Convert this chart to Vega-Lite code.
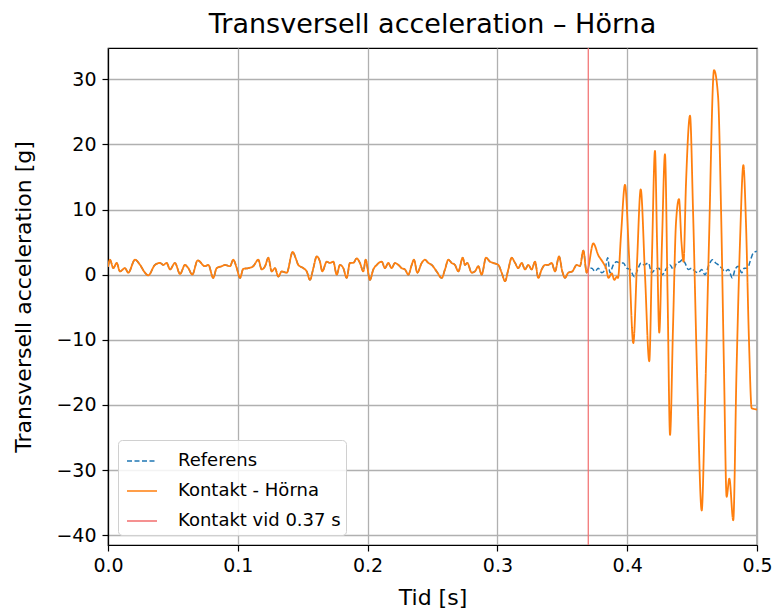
{
  "$schema": "https://vega.github.io/schema/vega-lite/v6.json",
  "width": 649,
  "height": 497,
  "autosize": {"type": "none"},
  "padding": {"left": 108, "top": 48, "right": 17, "bottom": 67},
  "title": {"text": "Transversell acceleration – Hörna", "fontSize": 27, "fontWeight": "normal", "font": "DejaVu Sans", "color": "black", "offset": 8},
  "config": {
    "font": "DejaVu Sans",
    "view": {"stroke": "black", "strokeWidth": 1.2},
    "axis": {
      "domainColor": "black", "domainWidth": 1.2, "tickColor": "black", "tickSize": 6, "tickWidth": 1.2,
      "labelFontSize": 19, "labelColor": "black", "labelFont": "DejaVu Sans",
      "titleFontSize": 22, "titleFontWeight": "normal", "titleColor": "black", "titleFont": "DejaVu Sans",
      "gridColor": "#b0b0b0", "gridWidth": 1.3, "gridOpacity": 1
    }
  },
  "data": {"values": [
    {"t":0.0,"v":1.2,"s":"Referens"},{"t":0.0015,"v":2.3,"s":"Referens"},{"t":0.0041,"v":1.0,"s":"Referens"},{"t":0.0067,"v":1.8,"s":"Referens"},{"t":0.0092,"v":0.5,"s":"Referens"},{"t":0.0131,"v":1.0,"s":"Referens"},{"t":0.0156,"v":0.3,"s":"Referens"},{"t":0.0208,"v":2.3,"s":"Referens"},{"t":0.0247,"v":1.5,"s":"Referens"},{"t":0.0285,"v":0.3,"s":"Referens"},{"t":0.031,"v":-0.1,"s":"Referens"},{"t":0.0362,"v":1.5,"s":"Referens"},{"t":0.0401,"v":1.8,"s":"Referens"},{"t":0.0426,"v":1.5,"s":"Referens"},{"t":0.0452,"v":1.8,"s":"Referens"},{"t":0.0478,"v":0.8,"s":"Referens"},{"t":0.0516,"v":1.8,"s":"Referens"},{"t":0.0555,"v":0.1,"s":"Referens"},{"t":0.0593,"v":1.5,"s":"Referens"},{"t":0.0619,"v":1.0,"s":"Referens"},{"t":0.0649,"v":0.0,"s":"Referens"},{"t":0.0691,"v":2.2,"s":"Referens"},{"t":0.0747,"v":1.3,"s":"Referens"},{"t":0.0773,"v":1.5,"s":"Referens"},{"t":0.0811,"v":-0.5,"s":"Referens"},{"t":0.0837,"v":1.0,"s":"Referens"},{"t":0.0876,"v":1.3,"s":"Referens"},{"t":0.0901,"v":1.5,"s":"Referens"},{"t":0.094,"v":1.3,"s":"Referens"},{"t":0.0965,"v":2.3,"s":"Referens"},{"t":0.0992,"v":1.0,"s":"Referens"},{"t":0.1017,"v":-0.5,"s":"Referens"},{"t":0.1042,"v":0.9,"s":"Referens"},{"t":0.1081,"v":1.0,"s":"Referens"},{"t":0.1119,"v":1.3,"s":"Referens"},{"t":0.1158,"v":2.3,"s":"Referens"},{"t":0.1184,"v":0.8,"s":"Referens"},{"t":0.121,"v":1.3,"s":"Referens"},{"t":0.1235,"v":2.6,"s":"Referens"},{"t":0.1261,"v":0.5,"s":"Referens"},{"t":0.1287,"v":1.0,"s":"Referens"},{"t":0.1312,"v":-0.3,"s":"Referens"},{"t":0.1338,"v":0.5,"s":"Referens"},{"t":0.1377,"v":0.3,"s":"Referens"},{"t":0.1423,"v":3.5,"s":"Referens"},{"t":0.1445,"v":2.6,"s":"Referens"},{"t":0.1466,"v":1.5,"s":"Referens"},{"t":0.1505,"v":1.0,"s":"Referens"},{"t":0.1531,"v":0.5,"s":"Referens"},{"t":0.1556,"v":-0.8,"s":"Referens"},{"t":0.1582,"v":1.0,"s":"Referens"},{"t":0.1608,"v":2.8,"s":"Referens"},{"t":0.1633,"v":2.0,"s":"Referens"},{"t":0.1651,"v":0.5,"s":"Referens"},{"t":0.1685,"v":2.0,"s":"Referens"},{"t":0.171,"v":1.8,"s":"Referens"},{"t":0.1736,"v":2.0,"s":"Referens"},{"t":0.1762,"v":0.0,"s":"Referens"},{"t":0.1787,"v":1.5,"s":"Referens"},{"t":0.1813,"v":1.0,"s":"Referens"},{"t":0.1839,"v":-0.5,"s":"Referens"},{"t":0.1864,"v":1.8,"s":"Referens"},{"t":0.189,"v":1.8,"s":"Referens"},{"t":0.1916,"v":2.5,"s":"Referens"},{"t":0.1941,"v":1.8,"s":"Referens"},{"t":0.1967,"v":0.5,"s":"Referens"},{"t":0.1985,"v":2.3,"s":"Referens"},{"t":0.2018,"v":-0.8,"s":"Referens"},{"t":0.2044,"v":0.8,"s":"Referens"},{"t":0.207,"v":1.5,"s":"Referens"},{"t":0.2109,"v":2.0,"s":"Referens"},{"t":0.2134,"v":1.0,"s":"Referens"},{"t":0.2159,"v":1.8,"s":"Referens"},{"t":0.2185,"v":1.0,"s":"Referens"},{"t":0.2211,"v":1.8,"s":"Referens"},{"t":0.2237,"v":1.5,"s":"Referens"},{"t":0.2263,"v":1.0,"s":"Referens"},{"t":0.2288,"v":0.8,"s":"Referens"},{"t":0.2314,"v":0.0,"s":"Referens"},{"t":0.234,"v":1.5,"s":"Referens"},{"t":0.2357,"v":2.3,"s":"Referens"},{"t":0.2383,"v":0.3,"s":"Referens"},{"t":0.2417,"v":1.8,"s":"Referens"},{"t":0.2442,"v":2.3,"s":"Referens"},{"t":0.2468,"v":1.8,"s":"Referens"},{"t":0.2494,"v":1.5,"s":"Referens"},{"t":0.2532,"v":0.5,"s":"Referens"},{"t":0.2571,"v":-0.5,"s":"Referens"},{"t":0.2596,"v":0.8,"s":"Referens"},{"t":0.2622,"v":2.3,"s":"Referens"},{"t":0.2648,"v":1.8,"s":"Referens"},{"t":0.2673,"v":1.5,"s":"Referens"},{"t":0.2699,"v":0.5,"s":"Referens"},{"t":0.2733,"v":2.6,"s":"Referens"},{"t":0.275,"v":1.5,"s":"Referens"},{"t":0.2768,"v":1.8,"s":"Referens"},{"t":0.2802,"v":0.3,"s":"Referens"},{"t":0.2827,"v":0.5,"s":"Referens"},{"t":0.2853,"v":1.3,"s":"Referens"},{"t":0.2879,"v":0.0,"s":"Referens"},{"t":0.2912,"v":2.6,"s":"Referens"},{"t":0.2943,"v":2.0,"s":"Referens"},{"t":0.2968,"v":1.8,"s":"Referens"},{"t":0.3007,"v":1.5,"s":"Referens"},{"t":0.3033,"v":0.3,"s":"Referens"},{"t":0.3059,"v":-1.0,"s":"Referens"},{"t":0.3084,"v":0.8,"s":"Referens"},{"t":0.311,"v":2.6,"s":"Referens"},{"t":0.3136,"v":1.8,"s":"Referens"},{"t":0.3161,"v":1.0,"s":"Referens"},{"t":0.3187,"v":1.8,"s":"Referens"},{"t":0.3213,"v":0.8,"s":"Referens"},{"t":0.3238,"v":1.5,"s":"Referens"},{"t":0.3264,"v":0.8,"s":"Referens"},{"t":0.329,"v":2.0,"s":"Referens"},{"t":0.3315,"v":-0.5,"s":"Referens"},{"t":0.3341,"v":0.8,"s":"Referens"},{"t":0.3367,"v":1.5,"s":"Referens"},{"t":0.3392,"v":1.5,"s":"Referens"},{"t":0.3418,"v":1.8,"s":"Referens"},{"t":0.3444,"v":0.5,"s":"Referens"},{"t":0.3475,"v":2.8,"s":"Referens"},{"t":0.35,"v":0.5,"s":"Referens"},{"t":0.3521,"v":-0.5,"s":"Referens"},{"t":0.3546,"v":0.3,"s":"Referens"},{"t":0.3577,"v":0.5,"s":"Referens"},{"t":0.3611,"v":1.5,"s":"Referens"},{"t":0.3636,"v":1.3,"s":"Referens"},{"t":0.3662,"v":3.7,"s":"Referens"},{"t":0.3688,"v":0.3,"s":"Referens"},
    {"t":0.37,"v":0.8,"s":"Referens"},{"t":0.3727,"v":1.0,"s":"Referens"},{"t":0.3752,"v":0.5,"s":"Referens"},{"t":0.3777,"v":1.0,"s":"Referens"},{"t":0.3803,"v":0.3,"s":"Referens"},{"t":0.3829,"v":0.8,"s":"Referens"},{"t":0.385,"v":2.6,"s":"Referens"},{"t":0.3867,"v":0.3,"s":"Referens"},{"t":0.3893,"v":1.5,"s":"Referens"},{"t":0.3919,"v":2.0,"s":"Referens"},{"t":0.3945,"v":1.8,"s":"Referens"},{"t":0.397,"v":1.8,"s":"Referens"},{"t":0.3996,"v":1.0,"s":"Referens"},{"t":0.4022,"v":0.8,"s":"Referens"},{"t":0.4055,"v":-0.3,"s":"Referens"},{"t":0.4081,"v":0.8,"s":"Referens"},{"t":0.4106,"v":1.8,"s":"Referens"},{"t":0.4132,"v":1.5,"s":"Referens"},{"t":0.4163,"v":1.8,"s":"Referens"},{"t":0.4189,"v":0.3,"s":"Referens"},{"t":0.4214,"v":0.8,"s":"Referens"},{"t":0.4245,"v":1.0,"s":"Referens"},{"t":0.427,"v":0.0,"s":"Referens"},{"t":0.4304,"v":1.0,"s":"Referens"},{"t":0.433,"v":1.5,"s":"Referens"},{"t":0.4355,"v":0.8,"s":"Referens"},{"t":0.4381,"v":1.8,"s":"Referens"},{"t":0.4407,"v":2.0,"s":"Referens"},{"t":0.4425,"v":2.3,"s":"Referens"},{"t":0.4445,"v":1.8,"s":"Referens"},{"t":0.4471,"v":0.8,"s":"Referens"},{"t":0.4497,"v":1.0,"s":"Referens"},{"t":0.4522,"v":0.5,"s":"Referens"},{"t":0.4548,"v":0.3,"s":"Referens"},{"t":0.4574,"v":0.8,"s":"Referens"},{"t":0.4599,"v":0.0,"s":"Referens"},{"t":0.463,"v":1.5,"s":"Referens"},{"t":0.4656,"v":2.3,"s":"Referens"},{"t":0.4682,"v":1.8,"s":"Referens"},{"t":0.4702,"v":1.5,"s":"Referens"},{"t":0.4728,"v":1.0,"s":"Referens"},{"t":0.4753,"v":0.5,"s":"Referens"},{"t":0.4779,"v":0.8,"s":"Referens"},{"t":0.481,"v":-0.5,"s":"Referens"},{"t":0.4831,"v":0.8,"s":"Referens"},{"t":0.4856,"v":1.3,"s":"Referens"},{"t":0.4882,"v":0.3,"s":"Referens"},{"t":0.4902,"v":1.0,"s":"Referens"},{"t":0.4928,"v":1.0,"s":"Referens"},{"t":0.4946,"v":2.0,"s":"Referens"},{"t":0.4971,"v":3.3,"s":"Referens"},{"t":0.4998,"v":3.6,"s":"Referens"},

    {"t":0.0,"v":1.2,"s":"Kontakt - Hörna"},{"t":0.0015,"v":2.3,"s":"Kontakt - Hörna"},{"t":0.0041,"v":1.0,"s":"Kontakt - Hörna"},{"t":0.0067,"v":1.8,"s":"Kontakt - Hörna"},{"t":0.0092,"v":0.5,"s":"Kontakt - Hörna"},{"t":0.0131,"v":1.0,"s":"Kontakt - Hörna"},{"t":0.0156,"v":0.3,"s":"Kontakt - Hörna"},{"t":0.0208,"v":2.3,"s":"Kontakt - Hörna"},{"t":0.0247,"v":1.5,"s":"Kontakt - Hörna"},{"t":0.0285,"v":0.3,"s":"Kontakt - Hörna"},{"t":0.031,"v":-0.1,"s":"Kontakt - Hörna"},{"t":0.0362,"v":1.5,"s":"Kontakt - Hörna"},{"t":0.0401,"v":1.8,"s":"Kontakt - Hörna"},{"t":0.0426,"v":1.5,"s":"Kontakt - Hörna"},{"t":0.0452,"v":1.8,"s":"Kontakt - Hörna"},{"t":0.0478,"v":0.8,"s":"Kontakt - Hörna"},{"t":0.0516,"v":1.8,"s":"Kontakt - Hörna"},{"t":0.0555,"v":0.1,"s":"Kontakt - Hörna"},{"t":0.0593,"v":1.5,"s":"Kontakt - Hörna"},{"t":0.0619,"v":1.0,"s":"Kontakt - Hörna"},{"t":0.0649,"v":0.0,"s":"Kontakt - Hörna"},{"t":0.0691,"v":2.2,"s":"Kontakt - Hörna"},{"t":0.0747,"v":1.3,"s":"Kontakt - Hörna"},{"t":0.0773,"v":1.5,"s":"Kontakt - Hörna"},{"t":0.0811,"v":-0.5,"s":"Kontakt - Hörna"},{"t":0.0837,"v":1.0,"s":"Kontakt - Hörna"},{"t":0.0876,"v":1.3,"s":"Kontakt - Hörna"},{"t":0.0901,"v":1.5,"s":"Kontakt - Hörna"},{"t":0.094,"v":1.3,"s":"Kontakt - Hörna"},{"t":0.0965,"v":2.3,"s":"Kontakt - Hörna"},{"t":0.0992,"v":1.0,"s":"Kontakt - Hörna"},{"t":0.1017,"v":-0.5,"s":"Kontakt - Hörna"},{"t":0.1042,"v":0.9,"s":"Kontakt - Hörna"},{"t":0.1081,"v":1.0,"s":"Kontakt - Hörna"},{"t":0.1119,"v":1.3,"s":"Kontakt - Hörna"},{"t":0.1158,"v":2.3,"s":"Kontakt - Hörna"},{"t":0.1184,"v":0.8,"s":"Kontakt - Hörna"},{"t":0.121,"v":1.3,"s":"Kontakt - Hörna"},{"t":0.1235,"v":2.6,"s":"Kontakt - Hörna"},{"t":0.1261,"v":0.5,"s":"Kontakt - Hörna"},{"t":0.1287,"v":1.0,"s":"Kontakt - Hörna"},{"t":0.1312,"v":-0.3,"s":"Kontakt - Hörna"},{"t":0.1338,"v":0.5,"s":"Kontakt - Hörna"},{"t":0.1377,"v":0.3,"s":"Kontakt - Hörna"},{"t":0.1423,"v":3.5,"s":"Kontakt - Hörna"},{"t":0.1445,"v":2.6,"s":"Kontakt - Hörna"},{"t":0.1466,"v":1.5,"s":"Kontakt - Hörna"},{"t":0.1505,"v":1.0,"s":"Kontakt - Hörna"},{"t":0.1531,"v":0.5,"s":"Kontakt - Hörna"},{"t":0.1556,"v":-0.8,"s":"Kontakt - Hörna"},{"t":0.1582,"v":1.0,"s":"Kontakt - Hörna"},{"t":0.1608,"v":2.8,"s":"Kontakt - Hörna"},{"t":0.1633,"v":2.0,"s":"Kontakt - Hörna"},{"t":0.1651,"v":0.5,"s":"Kontakt - Hörna"},{"t":0.1685,"v":2.0,"s":"Kontakt - Hörna"},{"t":0.171,"v":1.8,"s":"Kontakt - Hörna"},{"t":0.1736,"v":2.0,"s":"Kontakt - Hörna"},{"t":0.1762,"v":0.0,"s":"Kontakt - Hörna"},{"t":0.1787,"v":1.5,"s":"Kontakt - Hörna"},{"t":0.1813,"v":1.0,"s":"Kontakt - Hörna"},{"t":0.1839,"v":-0.5,"s":"Kontakt - Hörna"},{"t":0.1864,"v":1.8,"s":"Kontakt - Hörna"},{"t":0.189,"v":1.8,"s":"Kontakt - Hörna"},{"t":0.1916,"v":2.5,"s":"Kontakt - Hörna"},{"t":0.1941,"v":1.8,"s":"Kontakt - Hörna"},{"t":0.1967,"v":0.5,"s":"Kontakt - Hörna"},{"t":0.1985,"v":2.3,"s":"Kontakt - Hörna"},{"t":0.2018,"v":-0.8,"s":"Kontakt - Hörna"},{"t":0.2044,"v":0.8,"s":"Kontakt - Hörna"},{"t":0.207,"v":1.5,"s":"Kontakt - Hörna"},{"t":0.2109,"v":2.0,"s":"Kontakt - Hörna"},{"t":0.2134,"v":1.0,"s":"Kontakt - Hörna"},{"t":0.2159,"v":1.8,"s":"Kontakt - Hörna"},{"t":0.2185,"v":1.0,"s":"Kontakt - Hörna"},{"t":0.2211,"v":1.8,"s":"Kontakt - Hörna"},{"t":0.2237,"v":1.5,"s":"Kontakt - Hörna"},{"t":0.2263,"v":1.0,"s":"Kontakt - Hörna"},{"t":0.2288,"v":0.8,"s":"Kontakt - Hörna"},{"t":0.2314,"v":0.0,"s":"Kontakt - Hörna"},{"t":0.234,"v":1.5,"s":"Kontakt - Hörna"},{"t":0.2357,"v":2.3,"s":"Kontakt - Hörna"},{"t":0.2383,"v":0.3,"s":"Kontakt - Hörna"},{"t":0.2417,"v":1.8,"s":"Kontakt - Hörna"},{"t":0.2442,"v":2.3,"s":"Kontakt - Hörna"},{"t":0.2468,"v":1.8,"s":"Kontakt - Hörna"},{"t":0.2494,"v":1.5,"s":"Kontakt - Hörna"},{"t":0.2532,"v":0.5,"s":"Kontakt - Hörna"},{"t":0.2571,"v":-0.5,"s":"Kontakt - Hörna"},{"t":0.2596,"v":0.8,"s":"Kontakt - Hörna"},{"t":0.2622,"v":2.3,"s":"Kontakt - Hörna"},{"t":0.2648,"v":1.8,"s":"Kontakt - Hörna"},{"t":0.2673,"v":1.5,"s":"Kontakt - Hörna"},{"t":0.2699,"v":0.5,"s":"Kontakt - Hörna"},{"t":0.2733,"v":2.6,"s":"Kontakt - Hörna"},{"t":0.275,"v":1.5,"s":"Kontakt - Hörna"},{"t":0.2768,"v":1.8,"s":"Kontakt - Hörna"},{"t":0.2802,"v":0.3,"s":"Kontakt - Hörna"},{"t":0.2827,"v":0.5,"s":"Kontakt - Hörna"},{"t":0.2853,"v":1.3,"s":"Kontakt - Hörna"},{"t":0.2879,"v":0.0,"s":"Kontakt - Hörna"},{"t":0.2912,"v":2.6,"s":"Kontakt - Hörna"},{"t":0.2943,"v":2.0,"s":"Kontakt - Hörna"},{"t":0.2968,"v":1.8,"s":"Kontakt - Hörna"},{"t":0.3007,"v":1.5,"s":"Kontakt - Hörna"},{"t":0.3033,"v":0.3,"s":"Kontakt - Hörna"},{"t":0.3059,"v":-1.0,"s":"Kontakt - Hörna"},{"t":0.3084,"v":0.8,"s":"Kontakt - Hörna"},{"t":0.311,"v":2.6,"s":"Kontakt - Hörna"},{"t":0.3136,"v":1.8,"s":"Kontakt - Hörna"},{"t":0.3161,"v":1.0,"s":"Kontakt - Hörna"},{"t":0.3187,"v":1.8,"s":"Kontakt - Hörna"},{"t":0.3213,"v":0.8,"s":"Kontakt - Hörna"},{"t":0.3238,"v":1.5,"s":"Kontakt - Hörna"},{"t":0.3264,"v":0.8,"s":"Kontakt - Hörna"},{"t":0.329,"v":2.0,"s":"Kontakt - Hörna"},{"t":0.3315,"v":-0.5,"s":"Kontakt - Hörna"},{"t":0.3341,"v":0.8,"s":"Kontakt - Hörna"},{"t":0.3367,"v":1.5,"s":"Kontakt - Hörna"},{"t":0.3392,"v":1.5,"s":"Kontakt - Hörna"},{"t":0.3418,"v":1.8,"s":"Kontakt - Hörna"},{"t":0.3444,"v":0.5,"s":"Kontakt - Hörna"},{"t":0.3475,"v":2.8,"s":"Kontakt - Hörna"},{"t":0.35,"v":0.5,"s":"Kontakt - Hörna"},{"t":0.3521,"v":-0.5,"s":"Kontakt - Hörna"},{"t":0.3546,"v":0.3,"s":"Kontakt - Hörna"},{"t":0.3577,"v":0.5,"s":"Kontakt - Hörna"},{"t":0.3611,"v":1.5,"s":"Kontakt - Hörna"},{"t":0.3636,"v":1.3,"s":"Kontakt - Hörna"},{"t":0.3662,"v":3.7,"s":"Kontakt - Hörna"},{"t":0.3688,"v":0.3,"s":"Kontakt - Hörna"},
    {"t":0.3739,"v":4.8,"s":"Kontakt - Hörna"},{"t":0.3777,"v":3.0,"s":"Kontakt - Hörna"},{"t":0.3816,"v":1.8,"s":"Kontakt - Hörna"},{"t":0.3837,"v":1.0,"s":"Kontakt - Hörna"},{"t":0.3856,"v":-0.5,"s":"Kontakt - Hörna"},{"t":0.3881,"v":0.2,"s":"Kontakt - Hörna"},{"t":0.3901,"v":-0.8,"s":"Kontakt - Hörna"},{"t":0.3921,"v":-0.3,"s":"Kontakt - Hörna"},{"t":0.3929,"v":-0.5,"s":"Kontakt - Hörna"},{"t":0.3952,"v":6.0,"s":"Kontakt - Hörna"},{"t":0.3983,"v":13.8,"s":"Kontakt - Hörna"},{"t":0.4014,"v":3.0,"s":"Kontakt - Hörna"},{"t":0.4047,"v":-10.5,"s":"Kontakt - Hörna"},{"t":0.4076,"v":2.0,"s":"Kontakt - Hörna"},{"t":0.4104,"v":13.1,"s":"Kontakt - Hörna"},{"t":0.4137,"v":0.0,"s":"Kontakt - Hörna"},{"t":0.417,"v":-13.3,"s":"Kontakt - Hörna"},{"t":0.4191,"v":3.0,"s":"Kontakt - Hörna"},{"t":0.4214,"v":19.0,"s":"Kontakt - Hörna"},{"t":0.423,"v":5.0,"s":"Kontakt - Hörna"},{"t":0.4247,"v":-8.9,"s":"Kontakt - Hörna"},{"t":0.4268,"v":5.0,"s":"Kontakt - Hörna"},{"t":0.4291,"v":18.5,"s":"Kontakt - Hörna"},{"t":0.4311,"v":-3.0,"s":"Kontakt - Hörna"},{"t":0.433,"v":-24.6,"s":"Kontakt - Hörna"},{"t":0.4353,"v":-8.0,"s":"Kontakt - Hörna"},{"t":0.4376,"v":8.0,"s":"Kontakt - Hörna"},{"t":0.4399,"v":11.6,"s":"Kontakt - Hörna"},{"t":0.4418,"v":5.0,"s":"Kontakt - Hörna"},{"t":0.4434,"v":2.0,"s":"Kontakt - Hörna"},{"t":0.4453,"v":14.0,"s":"Kontakt - Hörna"},{"t":0.4484,"v":24.4,"s":"Kontakt - Hörna"},{"t":0.4507,"v":10.0,"s":"Kontakt - Hörna"},{"t":0.4538,"v":-15.0,"s":"Kontakt - Hörna"},{"t":0.4574,"v":-36.2,"s":"Kontakt - Hörna"},{"t":0.4599,"v":-20.0,"s":"Kontakt - Hörna"},{"t":0.463,"v":5.0,"s":"Kontakt - Hörna"},{"t":0.4669,"v":31.4,"s":"Kontakt - Hörna"},{"t":0.47,"v":27.4,"s":"Kontakt - Hörna"},{"t":0.4723,"v":10.0,"s":"Kontakt - Hörna"},{"t":0.4746,"v":-15.0,"s":"Kontakt - Hörna"},{"t":0.4766,"v":-34.1,"s":"Kontakt - Hörna"},{"t":0.4787,"v":-31.3,"s":"Kontakt - Hörna"},{"t":0.4817,"v":-37.7,"s":"Kontakt - Hörna"},{"t":0.4842,"v":-15.0,"s":"Kontakt - Hörna"},{"t":0.4869,"v":5.0,"s":"Kontakt - Hörna"},{"t":0.4895,"v":16.8,"s":"Kontakt - Hörna"},{"t":0.4915,"v":8.0,"s":"Kontakt - Hörna"},{"t":0.4938,"v":-10.0,"s":"Kontakt - Hörna"},{"t":0.4959,"v":-20.5,"s":"Kontakt - Hörna"},{"t":0.5,"v":-20.7,"s":"Kontakt - Hörna"},

    {"t":0.37,"s":"Kontakt vid 0.37 s"}
  ]},
  "encoding": {
    "x": {"field": "t", "type": "quantitative", "title": "Tid [s]",
      "scale": {"domain": [0, 0.5], "nice": false, "zero": false},
      "axis": {"values": [0, 0.1, 0.2, 0.3, 0.4, 0.5], "format": ".1f", "labelPadding": 5, "titlePadding": 12, "labelFlush": false}},
    "color": {"field": "s", "type": "nominal",
      "scale": {"domain": ["Referens", "Kontakt - Hörna", "Kontakt vid 0.37 s"], "range": ["#1f77b4", "#ff7f0e", "#f26d6d"]},
      "legend": {"title": null, "orient": "bottom-left", "offset": 10, "labelFontSize": 18, "labelColor": "black", "labelFont": "DejaVu Sans", "labelLimit": 400,
        "symbolType": "stroke", "symbolSize": 900, "symbolStrokeWidth": 1.6, "symbolOffset": 3, "labelOffset": 20, "rowPadding": 5,
        "padding": 5, "fillColor": "rgba(255,255,255,0.85)", "strokeColor": "#d0d0d0", "cornerRadius": 4}},
    "strokeDash": {"field": "s", "type": "nominal",
      "scale": {"domain": ["Referens", "Kontakt - Hörna", "Kontakt vid 0.37 s"], "range": [[5, 2.5], [1, 0], [1, 0]]},
      "legend": {"title": null}}
  },
  "layer": [
    {
      "transform": [{"filter": "datum.s === 'Referens'"}],
      "mark": {"type": "line", "strokeWidth": 1.5, "interpolate": "monotone", "clip": true},
      "encoding": {
        "y": {"field": "v", "type": "quantitative", "title": "Transversell acceleration [g]",
          "scale": {"domain": [-41.5, 34.8], "nice": false, "zero": false},
          "axis": {"values": [-40, -30, -20, -10, 0, 10, 20, 30], "labelExpr": "replace(datum.label, '-', '−')", "labelPadding": 6, "titlePadding": 20}}
      }
    },
    {
      "transform": [{"filter": "datum.s === 'Kontakt - Hörna'"}],
      "mark": {"type": "line", "strokeWidth": 1.8, "interpolate": "monotone", "clip": true},
      "encoding": {"y": {"field": "v", "type": "quantitative"}}
    },
    {
      "transform": [{"filter": "datum.s === 'Kontakt vid 0.37 s'"}],
      "mark": {"type": "rule", "strokeWidth": 1.2},
      "encoding": {}
    }
  ]
}
